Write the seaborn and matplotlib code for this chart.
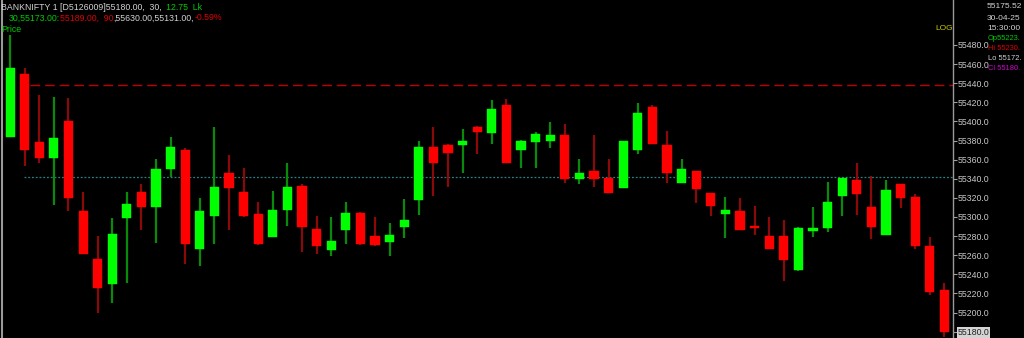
import matplotlib
matplotlib.use("Agg")
import matplotlib.pyplot as plt
import numpy as np
import pandas as pd
import seaborn as sns

# ---- data ----
opens = [55384, 55450, 55378, 55362, 55400, 55306, 55256, 55230, 55299, 55326,
         55310, 55350, 55370, 55266, 55301, 55346, 55326, 55303, 55279, 55307,
         55332, 55287, 55265, 55286, 55304, 55280, 55274, 55290, 55318, 55373,
         55375, 55375, 55394, 55388, 55417, 55370, 55378, 55380, 55386, 55340,
         55348, 55341, 55330, 55370, 55415, 55375, 55336, 55348, 55325, 55303,
         55306, 55291, 55280, 55280, 55245, 55285, 55288, 55322, 55339, 55310,
         55281, 55335, 55321, 55270, 55224]
highs = [55490, 55456, 55428, 55426, 55425, 55326, 55280, 55299, 55326, 55335,
         55361, 55384, 55372, 55320, 55394, 55365, 55351, 55316, 55327, 55356,
         55334, 55301, 55300, 55316, 55305, 55300, 55294, 55319, 55380, 55394,
         55376, 55392, 55395, 55422, 55423, 55381, 55389, 55399, 55397, 55361,
         55386, 55361, 55379, 55419, 55417, 55390, 55361, 55348, 55325, 55321,
         55320, 55311, 55300, 55297, 55290, 55310, 55337, 55341, 55357, 55343,
         55339, 55335, 55324, 55279, 55231]
lows = [55384, 55353, 55357, 55313, 55306, 55261, 55200, 55210, 55231, 55286,
        55273, 55342, 55251, 55249, 55272, 55286, 55300, 55271, 55279, 55291,
        55263, 55261, 55259, 55272, 55271, 55270, 55259, 55278, 55302, 55322,
        55331, 55346, 55366, 55376, 55357, 55351, 55351, 55372, 55336, 55334,
        55331, 55325, 55330, 55366, 55376, 55336, 55336, 55315, 55301, 55278,
        55286, 55281, 55266, 55233, 55243, 55279, 55284, 55301, 55302, 55277,
        55281, 55309, 55267, 55218, 55174]
closes = [55456, 55370, 55362, 55383, 55320, 55261, 55226, 55282, 55314, 55310,
          55350, 55373, 55272, 55306, 55331, 55330, 55301, 55272, 55307, 55331,
          55290, 55270, 55275, 55304, 55272, 55271, 55281, 55297, 55373, 55356,
          55367, 55380, 55389, 55413, 55357, 55379, 55387, 55386, 55340, 55346,
          55340, 55325, 55379, 55409, 55376, 55346, 55350, 55329, 55312, 55307,
          55286, 55288, 55266, 55255, 55289, 55289, 55316, 55341, 55324, 55290,
          55328, 55320, 55270, 55222, 55180]
y_ticks = list(range(55180, 55481, 20))
high_line = 55438
prev_close_line = 55342

# ---- style ----
sns.set_theme(style="dark", rc={
    "figure.facecolor": "black", "axes.facecolor": "black",
    "axes.edgecolor": "#a0a0a0", "axes.grid": False,
})
plt.rcParams["font.family"] = ["Liberation Sans", "DejaVu Sans"]

W, H = 1024, 338
fig = plt.figure(figsize=(W / 100, H / 100), dpi=100)
ax = fig.add_axes([2 / W, 0, 951 / W, 1])

df = pd.DataFrame({"i": np.arange(len(opens)), "open": opens, "high": highs,
                   "low": lows, "close": closes})
df["up"] = df["close"] >= df["open"]
df["bottom"] = df[["open", "close"]].min(axis=1)
df["height"] = (df["close"] - df["open"]).abs().clip(lower=1.2)

for up, body_c, wick_c in [(True, "#00ff00", "#0a8a0a"), (False, "#ff0000", "#8a0a0a")]:
    sub = df[df["up"] == up]
    ax.vlines(sub["i"], sub["low"], sub["high"], color=wick_c, linewidth=1.6, zorder=2)
    ax.bar(sub["i"], sub["height"], bottom=sub["bottom"], width=0.62,
           color=body_c, edgecolor=body_c, linewidth=0.3, zorder=3)

ax.axhline(high_line, xmin=(30 - 2) / 951, xmax=1, color="#c00000",
           linestyle=(0, (7, 3.5)), linewidth=1.0, zorder=1)
ax.axhline(prev_close_line, xmin=(24 - 2) / 951, xmax=1, color="#2e8080",
           linestyle=(0, (1.5, 1.5)), linewidth=0.9, zorder=1)

ax.set_xlim(-0.55, 64.59)
ax.set_ylim(55173.4, 55527)
ax.set_xticks([])
ax.yaxis.tick_right()
ax.set_yticks(y_ticks)
ax.set_yticklabels([f"{v:.1f}" for v in y_ticks])
ax.tick_params(axis="y", which="both", direction="out", length=3, width=0.8,
               color="#a0a0a0", labelcolor="#c8c8c8", labelsize=6.3, pad=0.5,
               right=True, left=False)
for s in ["top", "bottom"]:
    ax.spines[s].set_visible(False)
ax.spines["left"].set_color("#9a9a9a")
ax.spines["right"].set_color("#9a9a9a")
ax.spines["left"].set_linewidth(1.5)
ax.spines["right"].set_linewidth(1.0)

lbl = ax.get_yticklabels()[0]
lbl.set_color("#202020")
lbl.set_bbox(dict(facecolor="#d4d4d4", edgecolor="none", pad=0.6))

# ---- header text ----
fig.canvas.draw()
renderer = fig.canvas.get_renderer()


def seg_text(x_px, y_px, parts, size=6.3):
    x = x_px
    for txt, col in parts:
        t = fig.text(x / W, 1 - y_px / H, txt, color=col, fontsize=size,
                     ha="left", va="center")
        bb = t.get_window_extent(renderer=renderer)
        x += bb.width


GRY = "#d2d2d2"
GRN = "#00cc00"
RED = "#e00000"
seg_text(1, 7, [("BANKNIFTY 1 [D5126009]55180.00,  30,  ", GRY), ("12.75  Lk", GRN)])
seg_text(9, 18, [("30,55173.00:", GRN), ("55189.00,  90", RED),
                 (",55630.00,55131.00,", GRY), ("-0.59%", RED)])
seg_text(1, 29, [("Price", GRN)])

fig.text(935 / W, 1 - 29 / H, "LOG", color="#c8c800", fontsize=6.0, ha="left", va="center")

seg_text(987, 7, [("55175.52", GRY)], size=6.0)
seg_text(987, 18, [("30-04-25", GRY)], size=6.0)
seg_text(987, 29, [("15:30:00", GRY)], size=6.0)
seg_text(988, 38.5, [("Op55223.", GRN)], size=5.4)
seg_text(988, 48.5, [("Hi 55230.", RED)], size=5.4)
seg_text(988, 58.5, [("Lo 55172.", GRY)], size=5.4)
seg_text(988, 68.5, [("Cl 55180.", "#d000d0")], size=5.4)

fig.savefig("out.png", dpi=100, facecolor="black")
